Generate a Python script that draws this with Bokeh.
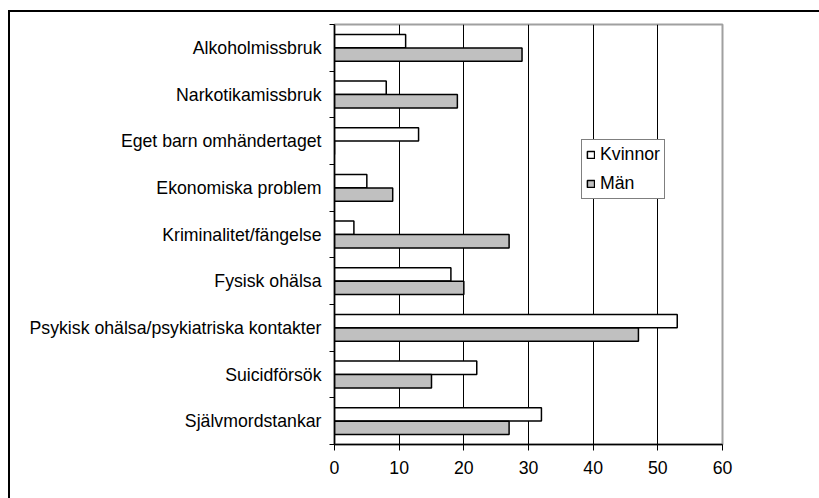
from bokeh.plotting import figure
from bokeh.models import (Range1d, FixedTicker, ColumnDataSource, Legend, LegendItem,
                          InlineStyleSheet)
from bokeh.embed import file_html
from bokeh.resources import INLINE

categories = [
    "Alkoholmissbruk",
    "Narkotikamissbruk",
    "Eget barn omhändertaget",
    "Ekonomiska problem",
    "Kriminalitet/fängelse",
    "Fysisk ohälsa",
    "Psykisk ohälsa/psykiatriska kontakter",
    "Suicidförsök",
    "Självmordstankar",
]
kvinnor = [11, 8, 13, 5, 3, 18, 53, 22, 32]
man = [29, 19, 0, 9, 27, 20, 47, 15, 27]
x_ticks = [0, 10, 20, 30, 40, 50, 60]
series_names = ["Kvinnor", "Män"]

n = len(categories)
centers = [n - i - 0.5 for i in range(n)]
off = 0.145
bar_h = 0.285

src = ColumnDataSource(dict(
    yk=[c + off for c in centers],
    ym=[c - off for c in centers],
    k=kvinnor,
    m=man,
))

FONT = "Liberation Sans"
FS = "17.7px"

p = figure(width=819, height=498, output_backend="svg", toolbar_location=None,
           x_range=Range1d(x_ticks[0], x_ticks[-1]), y_range=Range1d(0, n),
           min_border_left=334, min_border_right=97, min_border_top=24,
           min_border_bottom=54)
p.background_fill_color = "white"
p.border_fill_color = "white"
p.outline_line_color = "#a0a0a0"
p.outline_line_width = 2

rk = p.hbar(y="yk", right="k", left=0, height=bar_h, source=src,
            fill_color="white", line_color="black", line_width=1.5)
rm = p.hbar(y="ym", right="m", left=0, height=bar_h, source=src,
            fill_color="#c0c0c0", line_color="black", line_width=1.5)

# x axis
p.xaxis.ticker = FixedTicker(ticks=x_ticks)
p.xaxis.axis_line_color = "black"
p.xaxis.axis_line_width = 1.5
p.xaxis.major_tick_line_color = "black"
p.xaxis.major_tick_in = 0
p.xaxis.major_tick_out = 6
p.xaxis.minor_tick_line_color = None
p.xaxis.major_label_standoff = 10
p.xaxis.major_label_text_font = FONT
p.xaxis.major_label_text_font_size = FS
p.xaxis.major_label_text_color = "black"

# y axis: labels at centers, tick marks at boundaries
p.yaxis.ticker = FixedTicker(ticks=centers, minor_ticks=list(range(0, n + 1)))
p.yaxis.major_label_overrides = {c: name for c, name in zip(centers, categories)}
p.yaxis.axis_line_color = "black"
p.yaxis.axis_line_width = 1.5
p.yaxis.major_tick_line_color = None
p.yaxis.major_tick_in = 0
p.yaxis.major_tick_out = 0
p.yaxis.minor_tick_line_color = "black"
p.yaxis.minor_tick_in = 0
p.yaxis.minor_tick_out = 5
p.yaxis.major_label_standoff = 8
p.yaxis.major_label_text_font = FONT
p.yaxis.major_label_text_font_size = FS
p.yaxis.major_label_text_color = "black"

# grid
p.ygrid.grid_line_color = None
p.xgrid.ticker = FixedTicker(ticks=x_ticks[1:-1])
p.xgrid.grid_line_color = "black"
p.xgrid.grid_line_width = 1

legend = Legend(items=[LegendItem(label=series_names[0], renderers=[rk]),
                       LegendItem(label=series_names[1], renderers=[rm])],
                location=(247, 245), orientation="vertical")
legend.glyph_width = 9
legend.glyph_height = 9
legend.label_standoff = 5
legend.spacing = 8
legend.padding = 4
legend.margin = 0
legend.label_height = 18
legend.label_text_font = FONT
legend.label_text_font_size = FS
legend.label_text_color = "black"
legend.border_line_color = "black"
legend.border_line_width = 1
legend.background_fill_color = "white"
legend.background_fill_alpha = 1
p.add_layout(legend, "center")

# outer chart border (runs off the right and bottom edges, as in the original)
p.stylesheets = [InlineStyleSheet(css="""
:host { overflow: hidden; }
:host::after {
  content: "";
  position: absolute;
  left: 8px; top: 10px;
  width: 1000px; height: 1000px;
  border: 2px solid black;
  pointer-events: none;
  box-sizing: border-box;
}
""")]

open("out.html", "w").write(file_html(p, INLINE))
